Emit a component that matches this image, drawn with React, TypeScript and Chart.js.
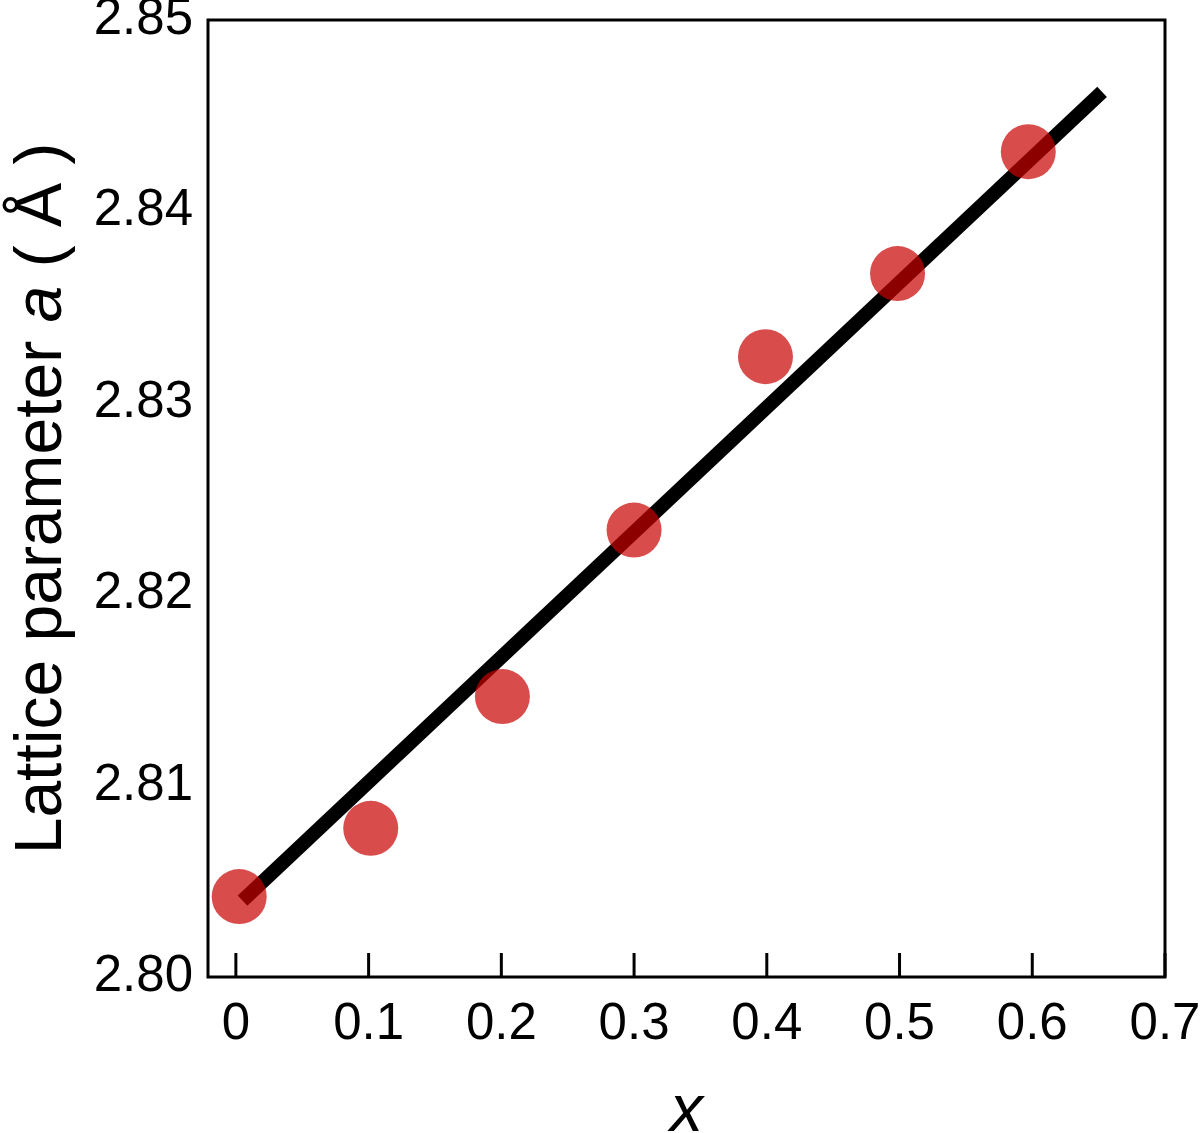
import React, { useEffect, useRef } from "react";
import { Chart, registerables } from "chart.js";

Chart.register(...registerables);

// Data
const compositionX = [0.0025, 0.1016, 0.2008, 0.3, 0.399, 0.4985, 0.597];
const latticeA = [2.8042, 2.80777, 2.81465, 2.82335, 2.83241, 2.83675, 2.84312];
const fitX = [0.005, 0.6526];
const fitA = [2.80399, 2.84624];
const xTicks = [0, 0.1, 0.2, 0.3, 0.4, 0.5, 0.6, 0.7];
const xTickLabels = ["0", "0.1", "0.2", "0.3", "0.4", "0.5", "0.6", "0.7"];
const yTicks = [2.8, 2.81, 2.82, 2.83, 2.84, 2.85];
const yTickLabels = ["2.80", "2.81", "2.82", "2.83", "2.84", "2.85"];

const FONT = "'Liberation Sans', Arial, Helvetica, sans-serif";

const framePlugin = {
  id: "frameAndTitles",
  beforeDatasetsDraw(chart: any) {
    const { ctx, chartArea } = chart;
    const xs = chart.scales.x;
    ctx.save();
    ctx.strokeStyle = "#000";
    ctx.lineWidth = 3;
    ctx.strokeRect(chartArea.left, chartArea.top, chartArea.right - chartArea.left, chartArea.bottom - chartArea.top);
    // inward ticks on x axis
    ctx.lineWidth = 3;
    for (const v of xTicks) {
      const px = xs.getPixelForValue(v);
      ctx.beginPath();
      ctx.moveTo(px, chartArea.bottom);
      ctx.lineTo(px, chartArea.bottom - 24);
      ctx.stroke();
    }
    ctx.restore();
  },
  afterDraw(chart: any) {
    const { ctx, chartArea } = chart;
    ctx.save();
    ctx.fillStyle = "#000";
    // y title with italic "a"
    const size = 66;
    const parts = [
      { t: "Lattice parameter ", f: `normal ${size}px ${FONT}` },
      { t: "a", f: `italic ${size}px ${FONT}` },
      { t: " ( Å )", f: `normal ${size}px ${FONT}` },
    ];
    let total = 0;
    const widths = parts.map((p) => {
      ctx.font = p.f;
      const w = ctx.measureText(p.t).width;
      total += w;
      return w;
    });
    const cy = (chartArea.top + chartArea.bottom) / 2;
    ctx.translate(61, cy);
    ctx.rotate(-Math.PI / 2);
    ctx.textBaseline = "alphabetic";
    ctx.textAlign = "left";
    let x = -total / 2;
    parts.forEach((p, i) => {
      ctx.font = p.f;
      ctx.fillText(p.t, x, 0);
      x += widths[i];
    });
    ctx.restore();

    // x title
    ctx.save();
    ctx.fillStyle = "#000";
    ctx.font = `italic ${size}px ${FONT}`;
    ctx.textAlign = "center";
    ctx.textBaseline = "alphabetic";
    ctx.fillText("x", (chartArea.left + chartArea.right) / 2, 1131);
    ctx.restore();
  },
};

export default function App() {
  const canvasRef = useRef<HTMLCanvasElement | null>(null);

  useEffect(() => {
    document.body.style.margin = "0";
    const canvas = canvasRef.current;
    if (!canvas) return;
    const chart = new Chart(canvas, {
      type: "scatter",
      data: {
        datasets: [
          {
            label: "measured",
            data: compositionX.map((x, i) => ({ x, y: latticeA[i] })),
            backgroundColor: "rgba(200,0,0,0.7)",
            borderWidth: 0,
            pointRadius: 27.5,
            pointHoverRadius: 27.5,
            showLine: false,
          },
          {
            label: "fit",
            data: fitX.map((x, i) => ({ x, y: fitA[i] })),
            borderColor: "#000",
            borderWidth: 14,
            borderCapStyle: "butt",
            pointRadius: 0,
            showLine: true,
            fill: false,
          },
        ],
      },
      options: {
        animation: false,
        responsive: false,
        devicePixelRatio: 1,
        layout: { autoPadding: false, padding: { top: 20, right: 35, left: 0, bottom: 0 } },
        plugins: { legend: { display: false }, tooltip: { enabled: false } },
        scales: {
          x: {
            type: "linear",
            min: -0.021,
            max: 0.7,
            grid: { display: false, drawTicks: false },
            border: { display: false },
            afterBuildTicks: (scale: any) => {
              scale.ticks = xTicks.map((v) => ({ value: v }));
            },
            afterFit: (scale: any) => {
              scale.height = 156;
              scale.paddingLeft = 0;
              scale.paddingRight = 0;
              scale.paddingTop = 0;
              scale.paddingBottom = 0;
            },
            ticks: {
              padding: 17,
              color: "#000",
              font: { family: FONT, size: 51 },
              maxRotation: 0,
              autoSkip: false,
              callback: (v: any) => {
                const i = xTicks.indexOf(Number(v));
                return i >= 0 ? xTickLabels[i] : "";
              },
            },
          },
          y: {
            type: "linear",
            min: 2.8,
            max: 2.85,
            grid: { display: false, drawTicks: false },
            border: { display: false },
            afterBuildTicks: (scale: any) => {
              scale.ticks = yTicks.map((v) => ({ value: v }));
            },
            afterFit: (scale: any) => {
              scale.width = 208;
              scale.paddingTop = 0;
              scale.paddingBottom = 0;
            },
            ticks: {
              padding: 15,
              color: "#000",
              font: { family: FONT, size: 51, lineHeight: 0.3 },
              autoSkip: false,
              callback: (v: any) => {
                const i = yTicks.findIndex((t) => Math.abs(t - Number(v)) < 1e-9);
                return i >= 0 ? yTickLabels[i] : "";
              },
            },
          },
        },
      },
      plugins: [framePlugin],
    } as any);
    return () => chart.destroy();
  }, []);

  return (
    <div style={{ position: "fixed", left: 0, top: 0, width: 1200, height: 1133, background: "#fff" }}>
      <canvas ref={canvasRef} width={1200} height={1133} style={{ width: 1200, height: 1133 }} />
    </div>
  );
}
